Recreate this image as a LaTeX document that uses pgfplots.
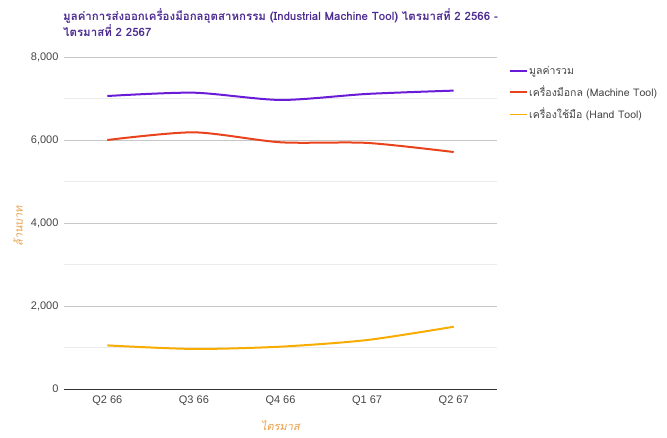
\documentclass[border=0pt]{standalone}
\usepackage{fontspec}
\setmainfont{Liberation Sans}
\newfontfamily\thai[Script=Thai]{Loma}
\newfontfamily\thaiit[Script=Thai,FakeSlant=0.2]{Loma}
\usepackage{pgfplots}
\pgfplotsset{compat=1.18}
\definecolor{cTotal}{HTML}{6A1BD8}
\definecolor{cMach}{HTML}{E8431C}
\definecolor{cHand}{HTML}{F9AC00}
\definecolor{cTitle}{HTML}{4B2A91}
\definecolor{cLab}{HTML}{E8A04A}
\definecolor{cTick}{HTML}{444444}
\begin{document}
\begin{tikzpicture}[x=1pt,y=1pt]
\useasboundingbox (-64,-49) rectangle (603,389);
\begin{axis}[
  at={(0,0)}, anchor=south west,
  scale only axis, width=433pt, height=332pt,
  xmin=-0.5, xmax=4.5, ymin=0, ymax=8000,
  xtick={0,1,2,3,4},
  xticklabels={Q2 66,Q3 66,Q4 66,Q1 67,Q2 67},
  ytick={0,2000,4000,6000,8000},
  minor ytick={1000,3000,5000,7000},
  ymajorgrids, yminorgrids,
  major grid style={draw=black!22, line width=0.6pt},
  minor grid style={draw=black!8, line width=0.6pt},
  axis x line*=bottom, axis y line*=left,
  x axis line style={draw=black!80, line width=0.8pt, -},
  y axis line style={draw=none},
  major tick length=0pt, minor tick length=0pt,
  tick label style={font=\fontsize{11}{13}\selectfont, text=cTick},
  /pgf/number format/.cd, 1000 sep={,}, assume math mode=true,
  /pgfplots/.cd,
  yticklabel style={xshift=-2pt},
  xticklabel style={yshift=-3pt},
  xlabel={\thaiit ไตรมาส},
  xlabel style={font=\fontsize{11}{13}\selectfont, text=cLab, at={(axis description cs:0.5,-0.085)}, anchor=north},
  ylabel={\thaiit ล้านบาท},
  ylabel style={font=\fontsize{11}{13}\selectfont, text=cLab, at={(axis description cs:-0.106,0.49)}, anchor=center},
  legend style={at={(1.02,0.985)}, anchor=north west, draw=none, fill=none,
    font=\fontsize{10.5}{12}\selectfont\thai, text=cTick, row sep=6pt,
    legend cell align=left},
  legend image post style={line width=1.3pt},
  every axis plot/.append style={line width=2pt, smooth, tension=0.45, no markers},
  clip=false,
]
\addplot[cTotal] coordinates {(0,7060) (1,7140) (2,6965) (3,7110) (4,7190)};
\addlegendentry{มูลค่ารวม}
\addplot[cMach] coordinates {(0,6000) (1,6185) (2,5945) (3,5930) (4,5710)};
\addlegendentry{เครื่องมือกล (Machine Tool)}
\addplot[cHand] coordinates {(0,1050) (1,965) (2,1020) (3,1180) (4,1500)};
\addlegendentry{เครื่องใช้มือ (Hand Tool)}
\end{axis}
\node[anchor=north west, align=left, text width=440pt, inner sep=0pt, text=cTitle,
  font=\fontsize{11.5}{16}\selectfont\bfseries\thai] at (-1,381)
  {มูลค่าการส่งออกเครื่องมือกลอุตสาหกรรม (Industrial Machine Tool) ไตรมาสที่ 2 2566 -\\ไตรมาสที่ 2 2567};
\end{tikzpicture}
\end{document}
